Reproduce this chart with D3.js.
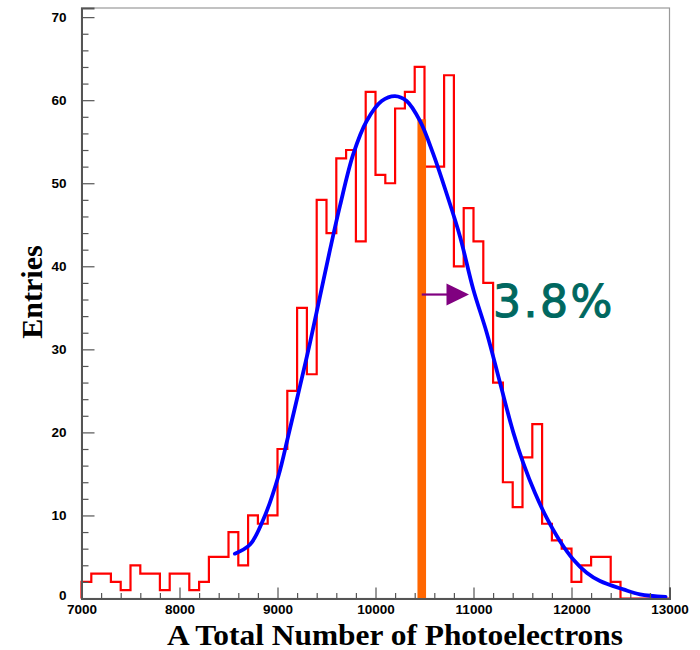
<!DOCTYPE html>
<html>
<head>
<meta charset="utf-8">
<script src="https://cdn.jsdelivr.net/npm/d3@7"></script>
<style>
  html, body { margin: 0; padding: 0; background: #fff; }
  svg { display: block; }
</style>
</head>
<body>
<svg id="chart" width="700" height="650"></svg>
<script>
// ---- data ----
const binStart = 7000;
const binWidth = 100;
const counts = [
  2, 3, 3, 2, 1, 4, 3, 3, 1, 3,
  3, 1, 2, 5, 5, 8, 4, 10, 9, 10,
  18, 25, 35, 27, 48, 44, 53, 54, 43, 61,
  51, 50, 59, 61, 64, 52, 52, 63, 40, 47,
  43, 38, 26, 14, 11, 17, 21, 9, 7, 6,
  2, 4, 5, 5, 2, 0, 0, 0, 0, 0
];
const fitX = [8565, 8720, 8855, 9008, 9110, 9230, 9332, 9434, 9536, 9638, 9773, 9910, 10063, 10199,
              10318, 10454, 10590, 10727, 10862, 10998, 11135, 11270, 11406, 11508, 11628, 11747,
              11883, 12018, 12155, 12291, 12529, 12699, 12960];
const fitY = [5.4, 6.5, 9.5, 14.7, 19.6, 25.6, 30.8, 36.4, 42.0, 47.3, 53.5, 57.5, 59.9, 60.5,
              59.9, 57.5, 53.5, 48.7, 43.6, 37.2, 32.0, 26.0, 20.0, 16.3, 12.7, 9.7,
              6.9, 4.7, 3.1, 2.1, 1.1, 0.5, 0.2];
const markerX = 10472;      // orange line position
const markerTop = 57.7;     // orange line height
const arrowFrom = 10472, arrowTo = 10954, arrowY = 36.6;
const annotation = "3.8%";
const xTicks = [7000, 8000, 9000, 10000, 11000, 12000, 13000];
const yTicks = [0, 10, 20, 30, 40, 50, 60, 70];
const xLabel = "A Total Number of Photoelectrons";
const yLabel = "Entries";

// ---- layout ----
const svg = d3.select("#chart");
const L = 81.5, R = 669.5, T = 8, B = 598.5;
const x = d3.scaleLinear().domain([7000, 13000]).range([L, R]);
const y = d3.scaleLinear().domain([0, 71.1]).range([B, T]);

// frame
svg.append("rect").attr("x", L).attr("y", T).attr("width", R - L).attr("height", B - T)
  .attr("fill", "none").attr("stroke", "#9a9a9a").attr("stroke-width", 1.2);

// histogram as step line
const pts = [[x(binStart), y(0)]];
counts.forEach((c, i) => {
  const x0 = binStart + i * binWidth, x1 = x0 + binWidth;
  pts.push([x(x0), y(c)], [x(x1), y(c)]);
});
pts.push([x(binStart + counts.length * binWidth), y(0)]);
svg.append("path").attr("d", d3.line()(pts))
  .attr("fill", "none").attr("stroke", "#ff0000").attr("stroke-width", 2.2)
  .attr("stroke-linejoin", "miter");

// orange marker
svg.append("rect").attr("x", x(markerX) - 4.3).attr("y", y(markerTop))
  .attr("width", 8.6).attr("height", y(0) - y(markerTop)).attr("fill", "#ff6600");

// fit curve
const fitPts = fitX.map((v, i) => [x(v), y(fitY[i])]);
svg.append("path").attr("d", d3.line().curve(d3.curveCatmullRom.alpha(0.5))(fitPts))
  .attr("fill", "none").attr("stroke", "#0000ff").attr("stroke-width", 3.8)
  .attr("stroke-linecap", "round");

// axes
const xMinor = d3.range(7000, 13001, 200).filter(v => v % 1000 !== 0);
const yMinor = d3.range(0, 71, 2).filter(v => v % 10 !== 0);

const gx = svg.append("g").attr("transform", `translate(0,${B})`);
gx.call(d3.axisBottom(x).tickValues(xMinor).tickSize(-5.5).tickFormat(""));
gx.call(g => g.select(".domain").remove());
const gx2 = svg.append("g").attr("transform", `translate(0,${B})`);
gx2.call(d3.axisBottom(x).tickValues(xTicks).tickSize(-11).tickPadding(6).tickFormat(d3.format("d")));
gx.selectAll("line").attr("stroke", "#555").attr("stroke-width", 1.2);
gx2.selectAll(".tick line").attr("stroke", "#555").attr("stroke-width", 1.2);
gx2.select(".domain").attr("stroke", "#555").attr("stroke-width", 2);
gx2.selectAll("text").attr("font-family", "'Liberation Sans', Arial, sans-serif")
  .attr("font-weight", "bold").attr("font-size", 13.5).attr("fill", "#000");

const gy = svg.append("g").attr("transform", `translate(${L},0)`);
gy.call(d3.axisLeft(y).tickValues(yMinor).tickSize(-7).tickFormat(""));
gy.call(g => g.select(".domain").remove());
const gy2 = svg.append("g").attr("transform", `translate(${L},0)`);
gy2.call(d3.axisLeft(y).tickValues(yTicks).tickSize(-13).tickPadding(15).tickFormat(d3.format("d")));
gy.selectAll("line").attr("stroke", "#555").attr("stroke-width", 1.2);
gy2.selectAll(".tick line").attr("stroke", "#555").attr("stroke-width", 1.2);
gy2.select(".domain").attr("stroke", "#555").attr("stroke-width", 2);
gy2.selectAll("text").attr("font-family", "'Liberation Sans', Arial, sans-serif")
  .attr("font-weight", "bold").attr("font-size", 13.5).attr("fill", "#000");
gy2.selectAll(".tick text").filter(d => d === 0).attr("dy", "0.1em");

// arrow
const ay = y(arrowY);
svg.append("line").attr("x1", x(arrowFrom)).attr("x2", x(arrowTo) - 20)
  .attr("y1", ay).attr("y2", ay).attr("stroke", "#800080").attr("stroke-width", 2.2);
svg.append("path")
  .attr("d", `M${x(arrowTo)},${ay} L${x(arrowTo) - 22.5},${ay - 11} L${x(arrowTo) - 22.5},${ay + 11} Z`)
  .attr("fill", "#800080");

// annotation text
svg.append("text").attr("x", 493).attr("y", 317)
  .attr("font-family", "'DejaVu Sans', sans-serif").attr("font-size", 44)
  .attr("letter-spacing", 2.5)
  .attr("fill", "#006860").attr("stroke", "#006860").attr("stroke-width", 1.1)
  .text(annotation);

// axis titles
svg.append("text").attr("x", 395).attr("y", 645).attr("text-anchor", "middle")
  .attr("font-family", "'Liberation Serif', 'Times New Roman', serif").attr("font-weight", "bold")
  .attr("font-size", 30).attr("textLength", 456).attr("lengthAdjust", "spacingAndGlyphs")
  .attr("fill", "#000").text(xLabel);
svg.append("text").attr("transform", "translate(42,292) rotate(-90)").attr("text-anchor", "middle")
  .attr("font-family", "'Liberation Serif', 'Times New Roman', serif").attr("font-weight", "bold")
  .attr("font-size", 30).attr("fill", "#000").text(yLabel);
</script>
</body>
</html>
